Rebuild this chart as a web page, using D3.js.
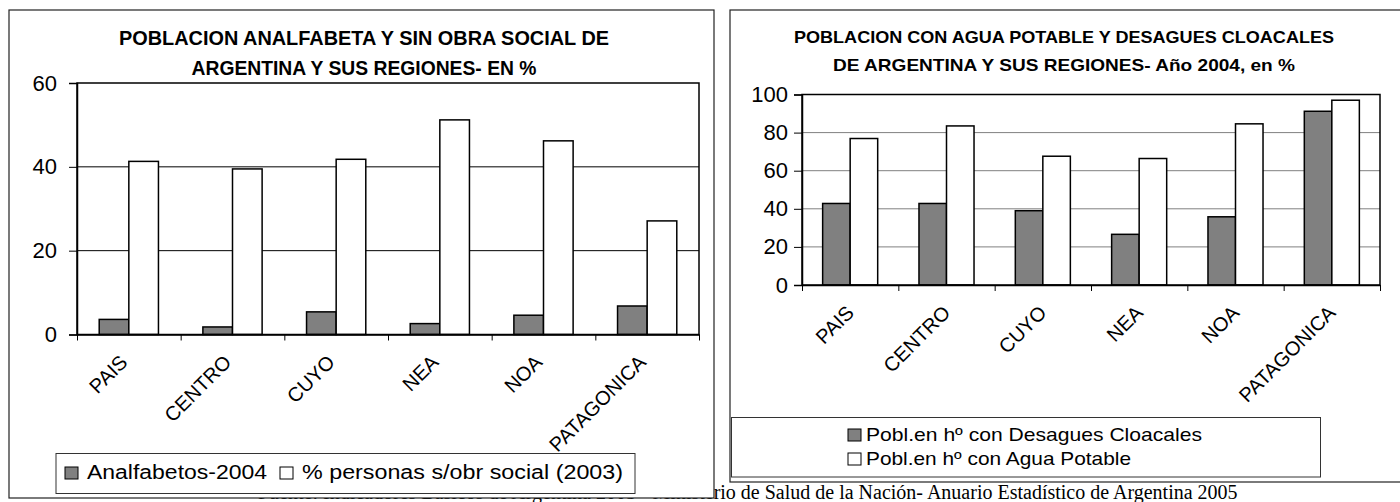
<html>
<head>
  <meta charset="utf-8">
  <script src="https://d3js.org/d3.v7.min.js"></script>
  <style>
    body { margin: 0; background: #fff; }
    svg text { font-family: "Liberation Sans", Arial, sans-serif; fill: #000; }
  </style>
</head>
<body>
<svg id="chart"></svg>
<script type="text/javascript">
// datos
var regiones = ["PAIS", "CENTRO", "CUYO", "NEA", "NOA", "PATAGONICA"];
var analfabetos = [3.6, 1.8, 5.4, 2.6, 4.6, 6.8];
var sinObraSocial = [41.3, 39.5, 41.8, 51.2, 46.2, 27.1];
var desagues = [42.8, 42.8, 39.0, 26.6, 35.8, 91.2];
var aguaPotable = [76.9, 83.5, 67.6, 66.4, 84.6, 97.0];
var ticksIzq = [0, 20, 40, 60];
var ticksDer = [0, 20, 40, 60, 80, 100];
var titulosIzq = ["POBLACION ANALFABETA Y SIN OBRA SOCIAL DE", "ARGENTINA Y SUS REGIONES- EN %"];
var titulosDer = ["POBLACION CON AGUA POTABLE Y DESAGUES CLOACALES", "DE ARGENTINA Y SUS REGIONES- Año 2004, en %"];
var leyendaIzq = ["Analfabetos-2004", "% personas s/obr social (2003)"];
var leyendaDer = ["Pobl.en hº con Desagues Cloacales", "Pobl.en hº con Agua Potable"];
var fuente = "Fuente: Indicadores Básicos de Argentina 2005 - Ministerio de Salud de la Nación- Anuario Estadístico de Argentina 2005";

var w = 1400;
var h = 502;
var gris = "#808080";

var svg = d3.select("#chart")
    .attr("width", w)
    .attr("height", h);

svg.append("rect").attr("width", w).attr("height", h).attr("fill", "#fff");

// texto de la fuente (queda tapado en parte por el grafico izquierdo)
svg.append("text")
    .attr("x", 258)
    .attr("y", 499)
    .style("font-family", "'Liberation Serif', 'Times New Roman', serif")
    .attr("font-size", "20px")
    .text(fuente);

function dibujar(opt) {
    var g = svg.append("g");

    // marco exterior
    g.append("rect")
        .attr("x", opt.frame[0]).attr("y", opt.frame[1])
        .attr("width", opt.frame[2]).attr("height", opt.frame[3])
        .attr("fill", "#fff")
        .attr("stroke", "#222")
        .attr("stroke-width", 1.2);

    // titulos
    opt.titulos.forEach(function (t, i) {
        g.append("text")
            .attr("x", opt.tituloX)
            .attr("y", opt.tituloY[i])
            .attr("text-anchor", "middle")
            .attr("font-size", opt.tituloSize + "px")
            .attr("font-weight", "bold")
            .attr("textLength", opt.tituloLen[i])
            .attr("lengthAdjust", "spacingAndGlyphs")
            .text(t);
    });

    var x = d3.scaleBand()
        .domain(regiones)
        .range([opt.x0, opt.x1]);

    var xSerie = d3.scaleBand()
        .domain([0, 1])
        .range([0, x.bandwidth()])
        .paddingInner(0)
        .paddingOuter(0.75);

    var y = d3.scaleLinear()
        .domain([0, opt.max])
        .range([opt.yBottom, opt.yTop]);

    // lineas de division
    g.selectAll(".grid")
        .data(opt.ticks.filter(function (d) { return d > 0 && d < opt.max; }))
        .enter()
        .append("line")
        .attr("x1", opt.x0).attr("x2", opt.x1)
        .attr("y1", function (d) { return y(d); })
        .attr("y2", function (d) { return y(d); })
        .attr("stroke", opt.gridColor)
        .attr("stroke-width", 1);

    // barras
    opt.series.forEach(function (serie, s) {
        g.selectAll(".bar" + s)
            .data(serie.values)
            .enter()
            .append("rect")
            .attr("x", function (d, i) { return x(regiones[i]) + xSerie(s); })
            .attr("y", function (d) { return y(d); })
            .attr("width", xSerie.bandwidth())
            .attr("height", function (d) { return y(0) - y(d); })
            .attr("fill", serie.fill)
            .attr("stroke", "#000")
            .attr("stroke-width", 1.5);
    });

    // borde del area del grafico
    g.append("rect")
        .attr("x", opt.x0).attr("y", opt.yTop)
        .attr("width", opt.x1 - opt.x0).attr("height", opt.yBottom - opt.yTop)
        .attr("fill", "none")
        .attr("stroke", "#000")
        .attr("stroke-width", 1.5);

    // eje Y
    var yAxis = d3.axisLeft(y)
        .tickValues(opt.ticks)
        .tickSize(8)
        .tickPadding(opt.yPad);

    var ay = g.append("g")
        .attr("transform", "translate(" + opt.x0 + ",0)")
        .call(yAxis);
    ay.select(".domain").attr("stroke-width", 1.5);
    ay.selectAll("text")
        .attr("font-size", "22px")
        .style("font-family", "'Liberation Sans', Arial, sans-serif");

    // eje X con marcas entre categorias
    var xLin = d3.scaleLinear().domain([0, regiones.length]).range([opt.x0, opt.x1]);
    var xAxis = d3.axisBottom(xLin)
        .tickValues(d3.range(regiones.length + 1))
        .tickFormat("")
        .tickSizeInner(6)
        .tickSizeOuter(0);

    var ax = g.append("g")
        .attr("transform", "translate(0," + opt.yBottom + ")")
        .call(xAxis);
    ax.select(".domain").attr("stroke-width", 1.5);

    g.selectAll(".xlab")
        .data(regiones)
        .enter()
        .append("text")
        .attr("text-anchor", "end")
        .attr("dy", "0.35em")
        .attr("font-size", opt.labSize + "px")
        .attr("transform", function (d) {
            return "translate(" + (x(d) + x.bandwidth() / 2 + opt.labDx) + "," + (opt.yBottom + opt.labDy) + ")rotate(-45)";
        })
        .text(function (d) { return d; });

    // leyenda
    g.append("rect")
        .attr("x", opt.leg[0]).attr("y", opt.leg[1])
        .attr("width", opt.leg[2]).attr("height", opt.leg[3])
        .attr("fill", "#fff")
        .attr("stroke", "#333")
        .attr("stroke-width", 1);

    opt.leyenda.forEach(function (e, i) {
        g.append("rect")
            .attr("x", e.sx).attr("y", e.ty - 12)
            .attr("width", 13).attr("height", 12)
            .attr("fill", opt.series[i].fill)
            .attr("stroke", "#000")
            .attr("stroke-width", 1);
        g.append("text")
            .attr("x", e.tx).attr("y", e.ty)
            .attr("font-size", opt.legSize + "px")
            .attr("textLength", e.len)
            .attr("lengthAdjust", "spacingAndGlyphs")
            .text(e.text);
    });
}

// grafico derecho
dibujar({
    frame: [730, 10, 675, 472],
    titulos: titulosDer,
    tituloX: 1064,
    tituloY: [43, 71],
    tituloSize: 17,
    tituloLen: [540, 462],
    x0: 802, x1: 1380,
    yTop: 94.5, yBottom: 285,
    max: 100,
    ticks: ticksDer,
    yPad: 6,
    gridColor: gris,
    series: [{ values: desagues, fill: gris }, { values: aguaPotable, fill: "#fff" }],
    labSize: 20, labDx: 0, labDy: 24,
    leg: [731.5, 417.5, 589, 59.5],
    legSize: 19,
    leyenda: [
        { text: leyendaDer[0], sx: 848, tx: 866, ty: 441, len: 336 },
        { text: leyendaDer[1], sx: 848, tx: 866, ty: 465, len: 265 }
    ]
});

// grafico izquierdo
dibujar({
    frame: [9, 10, 705, 488],
    titulos: titulosIzq,
    tituloX: 364,
    tituloY: [44.5, 75],
    tituloSize: 20,
    tituloLen: [490, 345],
    x0: 77, x1: 699,
    yTop: 83, yBottom: 334.5,
    max: 60,
    ticks: ticksIzq,
    yPad: 12,
    gridColor: "#000",
    series: [{ values: analfabetos, fill: gris }, { values: sinObraSocial, fill: "#fff" }],
    labSize: 20, labDx: -5, labDy: 24,
    leg: [56, 453.5, 579, 40],
    legSize: 20,
    leyenda: [
        { text: leyendaIzq[0], sx: 65, tx: 87, ty: 479, len: 180 },
        { text: leyendaIzq[1], sx: 280, tx: 302, ty: 479, len: 321 }
    ]
});
</script>
</body>
</html>
